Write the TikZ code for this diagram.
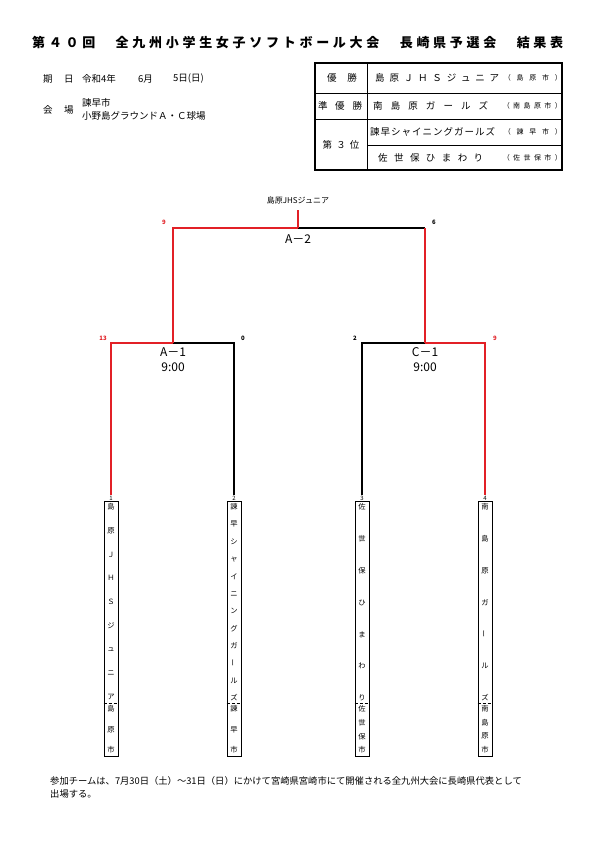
\documentclass[tikz,border=0pt]{standalone}
\usepackage{fontspec}
\setmainfont{Noto Sans CJK JP}
\definecolor{wred}{RGB}{226,32,38}
\newcommand\spr[2]{\makebox[#1][s]{#2}}
\newcommand\hf{\hfill}
\newcommand\qs{\hspace{13pt}}
\newcommand\vbar{\rotatebox{90}{ー}}
% prefix, x, y1, y2, n, list
\newcommand\vcol[6]{%
  \foreach \c [count=\i] in {#6} {%
    \node[vch] (#1-\i) at (#2, {#3+(\i-1)*(#4-#3)/(#5-1)}) {\c};
  }%
}
\tikzset{
  win/.style={draw=wred, line width=1.9pt},
  lose/.style={draw=black, line width=1.2pt},
  score/.style={font=\bfseries\fontsize{6}{6}\selectfont, inner sep=0pt},
  rscore/.style={score, text=wred},
  mlabel/.style={font=\fontsize{12}{12}\selectfont, inner sep=0pt},
  vch/.style={font=\fontsize{7.3}{7.3}\selectfont, inner sep=0pt},
  num/.style={font=\fontsize{6}{6}\selectfont, inner sep=0.5pt},
  teambox/.style={draw, line width=0.9pt, minimum width=14pt, minimum height=255pt, inner sep=0pt},
  info/.style={font=\fontsize{9.5}{9.5}\selectfont, inner sep=0pt},
  tbl/.style={font=\fontsize{9.5}{9.5}\selectfont, inner sep=0pt},
  city/.style={font=\fontsize{7}{7}\selectfont, inner sep=0pt},
}
\begin{document}
\begin{tikzpicture}[x=1pt,y=-1pt]
\fill[white] (0,0) rectangle (595,842);
\useasboundingbox (0,0) rectangle (595,842);

% title
\node[font=\bfseries\fontsize{13}{13}\selectfont, inner sep=0pt, anchor=west] (title) at (32,43)
 {\spr{531pt}{第\hf ４\hf ０\hf 回\hf \qs \hf 全\hf 九\hf 州\hf 小\hf 学\hf 生\hf 女\hf 子\hf ソ\hf フ\hf ト\hf ボ\hf ー\hf ル\hf 大\hf 会\hf \qs \hf 長\hf 崎\hf 県\hf 予\hf 選\hf 会\hf \qs \hf 結\hf 果\hf 表}};

% info
\node[info, anchor=west] (i1) at (43,79) {期};
\node[info, anchor=west] (i2) at (64,79) {日};
\node[info, anchor=west] (i3) at (82,79) {令和4年};
\node[info, anchor=west] (i4) at (138,79) {6月};
\node[info, anchor=west] (i5) at (173,79) {5日(日)};
\node[info, anchor=west] (i6) at (43,110) {会};
\node[info, anchor=west] (i7) at (64,110) {場};
\node[info, anchor=west] (i8) at (82,103) {諫早市};
\node[info, anchor=west] (i9) at (82,116) {\spr{122pt}{小\hf 野\hf 島\hf グ\hf ラ\hf ウ\hf ン\hf ド\hf Ａ\hf ・\hf Ｃ\hf 球\hf 場}};

% result table
\draw[line width=1.2pt] (315,63) rectangle (562,170);
\draw[line width=0.9pt] (315,93) -- (562,93) (315,119) -- (562,119) (367,145) -- (562,145) (367,63) -- (367,170);
\node[tbl] (r1a) at (342,78) {\spr{30pt}{優\hf 勝}};
\node[tbl, anchor=west] (r1b) at (375,78) {\spr{124pt}{島\hf 原\hf Ｊ\hf Ｈ\hf Ｓ\hf ジ\hf ュ\hf ニ\hf ア}};
\node[city, anchor=east] (r1c) at (562,78) {\spr{58pt}{（\hf 島\hf 原\hf 市\hf ）}};
\node[tbl] (r2a) at (340,106) {\spr{44pt}{準\hf 優\hf 勝}};
\node[tbl, anchor=west] (r2b) at (373,106) {\spr{115pt}{南\hf 島\hf 原\hf ガ\hf ー\hf ル\hf ズ}};
\node[city, anchor=east] (r2c) at (562,106) {\spr{59pt}{（\hf 南\hf 島\hf 原\hf 市\hf ）}};
\node[tbl] (r3a) at (341,145) {\spr{37pt}{第\hf ３\hf 位}};
\node[tbl, anchor=west] (r3b) at (370,132) {\spr{125pt}{諫\hf 早\hf シ\hf ャ\hf イ\hf ニ\hf ン\hf グ\hf ガ\hf ー\hf ル\hf ズ}};
\node[city, anchor=east] (r3c) at (562,132) {\spr{58pt}{（\hf 諫\hf 早\hf 市\hf ）}};
\node[tbl, anchor=west] (r4b) at (378,158) {\spr{105pt}{佐\hf 世\hf 保\hf ひ\hf ま\hf わ\hf り}};
\node[city, anchor=east] (r4c) at (562,158) {\spr{59pt}{（\hf 佐\hf 世\hf 保\hf 市\hf ）}};

% team boxes
\node[teambox] (t1) at (111,629) {};
\node[teambox] (t2) at (234,629) {};
\node[teambox] (t3) at (362,629) {};
\node[teambox] (t4) at (485,629) {};
\foreach \t in {t1,t2,t3,t4} {
  \draw[line width=0.5pt, densely dashed] (\t.west |- 0,703) -- (\t.east |- 0,703);
}
\node[num, anchor=south] (n1) at (t1.north) {1};
\node[num, anchor=south] (n2) at (t2.north) {2};
\node[num, anchor=south] (n3) at (t3.north) {3};
\node[num, anchor=south] (n4) at (t4.north) {4};

\vcol{a}{111}{507}{697}{9}{島,原,Ｊ,Ｈ,Ｓ,ジ,ュ,ニ,ア}
\vcol{b}{111}{709}{750}{3}{島,原,市}
\vcol{c}{234}{507}{698}{12}{諫,早,シ,ャ,イ,ニ,ン,グ,ガ,\vbar,ル,ズ}
\vcol{d}{234}{709}{750}{3}{諫,早,市}
\vcol{e}{362}{507}{698}{7}{佐,世,保,ひ,ま,わ,り}
\vcol{f}{362}{709}{750}{4}{佐,世,保,市}
\vcol{g}{485}{507}{698}{7}{南,島,原,ガ,\vbar,ル,ズ}
\vcol{h}{485}{709}{750}{4}{南,島,原,市}

% bracket junctions
\coordinate (a1L) at (111,343);
\coordinate (a1) at (173,343);
\coordinate (a1R) at (234,343);
\coordinate (c1L) at (362,343);
\coordinate (c1) at (425,343);
\coordinate (c1R) at (485,343);
\coordinate (a2L) at (173,228);
\coordinate (a2) at (298,228);
\coordinate (a2R) at (425,228);
\coordinate (top) at (298,210);

% first round
\draw[win] (n1.north) -- (a1L) -- (a1);
\draw[lose] (a1) -- (a1R) -- (n2.north);
\draw[lose] (n3.north) -- (c1L) -- (c1);
\draw[win] (c1) -- (c1R) -- (n4.north);
% final
\draw[win] (a1) -- (a2L) -- (a2);
\draw[lose] (a2) -- (a2R);
\draw[win] (c1) -- (a2R);
\draw[win] (a2) -- (top);

\node[font=\fontsize{8}{8}\selectfont, inner sep=0pt] (champ) at (298,200) {島原JHSジュニア};

% match labels
\node[mlabel] (la2) at (298,239) {A－2};
\node[mlabel] (la1) at (173,352) {A－1};
\node[mlabel] (ta1) at (173,367) {9:00};
\node[mlabel] (lc1) at (425,352) {C－1};
\node[mlabel] (tc1) at (425,367) {9:00};

% scores
\node[rscore] (s1) at (164,222) {9};
\node[score] (s2) at (434,222) {6};
\node[rscore] (s3) at (103,338) {13};
\node[score] (s4) at (243,338) {0};
\node[score] (s5) at (355,338) {2};
\node[rscore] (s6) at (495,338) {9};

% footer
\node[font=\fontsize{9.3}{9.3}\selectfont, inner sep=0pt, anchor=west] (f1) at (50,781) {参加チームは、7月30日（土）～31日（日）にかけて宮崎県宮崎市にて開催される全九州大会に長崎県代表として};
\node[font=\fontsize{9.3}{9.3}\selectfont, inner sep=0pt, anchor=west] (f2) at (50,794) {出場する。};
\end{tikzpicture}
\end{document}
